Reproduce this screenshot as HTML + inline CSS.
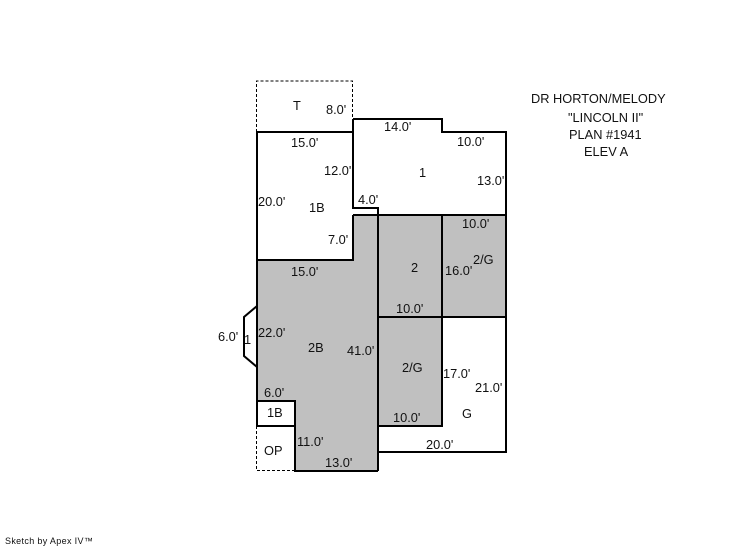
<!DOCTYPE html>
<html>
<head>
<meta charset="utf-8">
<style>
html,body{margin:0;padding:0;background:#fff;}
svg{display:block;}
text{font-family:"Liberation Sans",sans-serif;font-size:12.8px;fill:#111;}
</style>
</head>
<body>
<svg width="746" height="547" viewBox="0 0 746 547" xmlns="http://www.w3.org/2000/svg">
<rect width="746" height="547" fill="#fff"/>
<!-- grey fills -->
<path d="M257 260H353V215H378V208H378V215H506V317H442V426H378V471H295V401H257Z" fill="#c0c0c0"/>
<!-- dashed -->
<path d="M256.500 132V81H352.500V119" fill="none" stroke="#000" stroke-width="1" stroke-dasharray="3 2"/>
<path d="M256.500 426V470.500H295" fill="none" stroke="#000" stroke-width="1" stroke-dasharray="3 2"/>
<!-- walls -->
<g fill="none" stroke="#000" stroke-width="2">
<path d="M257 132H353"/>
<path d="M257 132V426H295"/>
<path d="M353 119H442V132H506V452H378"/>
<path d="M353 119V208H378V471"/>
<path d="M353 215V260H257"/>
<path d="M353 215H506"/>
<path d="M442 119V132"/>
<path d="M442 215V426H378"/>
<path d="M378 317H506"/>
<path d="M257 401H295V471H378"/>
<path d="M257 306L244 317V356L257 367"/>
</g>
<!-- labels -->
<text x="293" y="110">T</text>
<text x="326" y="114">8.0'</text>
<text x="384" y="131">14.0'</text>
<text x="291" y="147">15.0'</text>
<text x="457" y="146">10.0'</text>
<text x="324" y="175">12.0'</text>
<text x="419" y="177">1</text>
<text x="477" y="185">13.0'</text>
<text x="258" y="206">20.0'</text>
<text x="309" y="212">1B</text>
<text x="358" y="204">4.0'</text>
<text x="328" y="244">7.0'</text>
<text x="462" y="228">10.0'</text>
<text x="473" y="264">2/G</text>
<text x="411" y="272">2</text>
<text x="445" y="275">16.0'</text>
<text x="291" y="276">15.0'</text>
<text x="396" y="313">10.0'</text>
<text x="218" y="341">6.0'</text>
<text x="244" y="344">1</text>
<text x="258" y="337">22.0'</text>
<text x="308" y="352">2B</text>
<text x="347" y="355">41.0'</text>
<text x="402" y="372">2/G</text>
<text x="443" y="378">17.0'</text>
<text x="475" y="392">21.0'</text>
<text x="264" y="397">6.0'</text>
<text x="267" y="417">1B</text>
<text x="393" y="422">10.0'</text>
<text x="462" y="418">G</text>
<text x="297" y="446">11.0'</text>
<text x="426" y="449">20.0'</text>
<text x="264" y="455">OP</text>
<text x="325" y="467">13.0'</text>
<text x="531" y="103">DR HORTON/MELODY</text>
<text x="568" y="122">"LINCOLN II"</text>
<text x="569" y="139">PLAN #1941</text>
<text x="584" y="156">ELEV A</text>
<text x="5" y="544" style="font-size:9px;letter-spacing:.34px">Sketch by Apex IV™</text>
</svg>
</body>
</html>
